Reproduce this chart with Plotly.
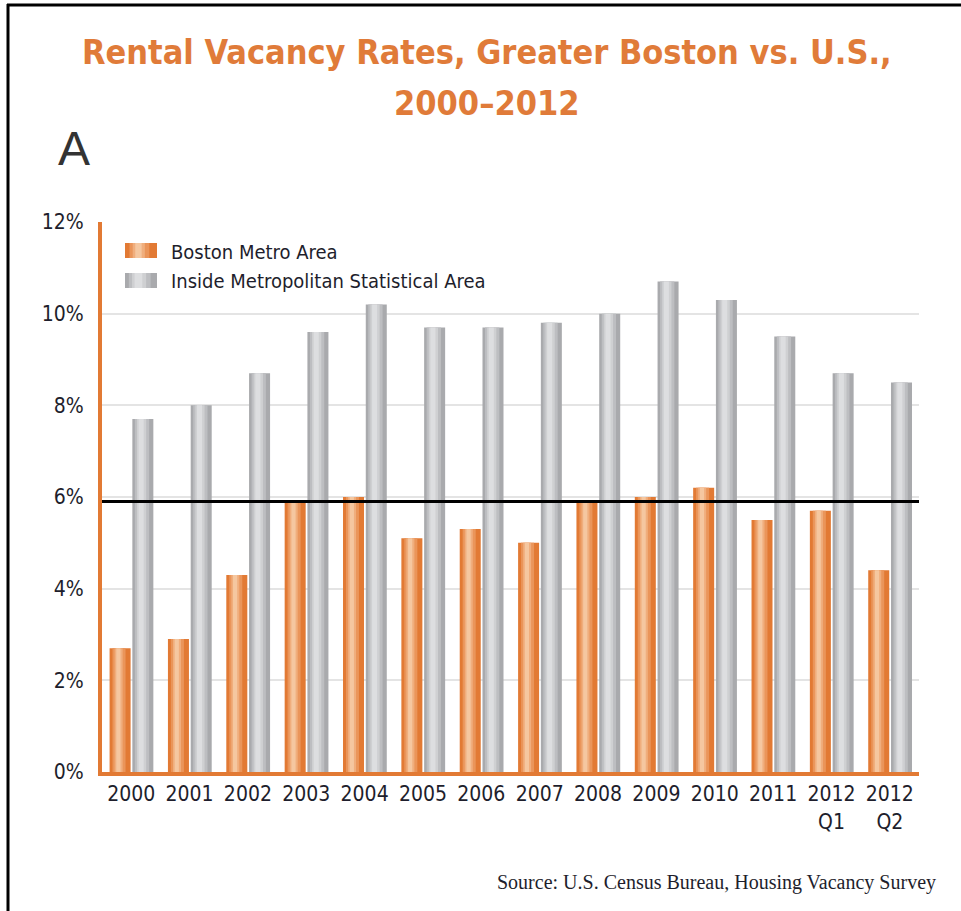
import plotly.graph_objects as go

categories = ["2000", "2001", "2002", "2003", "2004", "2005", "2006", "2007",
              "2008", "2009", "2010", "2011", "2012<br>Q1", "2012<br>Q2"]
boston = [2.7, 2.9, 4.3, 5.9, 6.0, 5.1, 5.3, 5.0, 5.9, 6.0, 6.2, 5.5, 5.7, 4.4]
inside_msa = [7.7, 8.0, 8.7, 9.6, 10.2, 9.7, 9.7, 9.8, 10.0, 10.7, 10.3, 9.5, 8.7, 8.5]
reference_line = 5.9
y_ticks = [0, 2, 4, 6, 8, 10, 12]
y_tick_labels = ["0%", "2%", "4%", "6%", "8%", "10%", "12%"]
series_names = ["Boston Metro Area", "Inside Metropolitan Statistical Area"]
title_lines = ["Rental Vacancy Rates, Greater Boston vs. U.S.,", "2000\u20132012"]

ORANGE = "#E27A34"
TITLE_ORANGE = "#E07B39"
GRAY = "#A9AAAD"
TEXT = "#1E1E2C"
NARROW = "Liberation Sans Narrow, Arial Narrow, DejaVu Sans Condensed, sans-serif"

W, H = 961, 911
L, R, T, B = 102, 42, 222, 139
PW, PH = W - L - R, H - T - B

xs = list(range(len(categories)))

orange_layers = [(0.0, 1.0, ORANGE), (0.14, 0.76, "#EA955A"),
                 (0.24, 0.62, "#F0AE7D"), (0.32, 0.52, "#F5C7A0")]
gray_layers = [(0.0, 1.0, GRAY), (0.12, 0.80, "#BDBEC1"),
               (0.22, 0.66, "#CFD0D2"), (0.30, 0.54, "#DDDEE0")]

bar_w = 0.36
fig = go.Figure()


def add_series(vals, base_offset, layers):
    for a, b, col in layers:
        fig.add_trace(go.Bar(
            x=xs, y=vals, offset=base_offset + a * bar_w, width=(b - a) * bar_w,
            marker=dict(color=col, line=dict(width=0)),
            showlegend=False, hoverinfo="skip"))


add_series(boston, -0.37, orange_layers)
add_series(inside_msa, 0.02, gray_layers)

shapes = []
shapes.append(dict(type="line", xref="paper", yref="y", x0=0, x1=1,
                   y0=reference_line, y1=reference_line,
                   line=dict(color="black", width=3)))


def px_x(p):
    return (p - L) / PW


def px_y(p):
    return (H - B - p) / PH


shapes.append(dict(type="line", xref="paper", yref="paper",
                   x0=px_x(7), x1=px_x(961), y0=px_y(5), y1=px_y(5),
                   line=dict(color="black", width=3)))
shapes.append(dict(type="line", xref="paper", yref="paper",
                   x0=px_x(8), x1=px_x(8), y0=px_y(4), y1=px_y(911),
                   line=dict(color="black", width=3)))

sw_x0, sw_w, sw_h = 125, 32, 15
for (top, layers) in [(243, orange_layers), (273, gray_layers)]:
    for a, b, col in layers:
        shapes.append(dict(type="rect", xref="paper", yref="paper",
                           x0=px_x(sw_x0 + a * sw_w), x1=px_x(sw_x0 + b * sw_w),
                           y0=px_y(top + sw_h), y1=px_y(top),
                           fillcolor=col, line=dict(width=0), layer="above"))

annotations = []
for name, cy in zip(series_names, [252, 281]):
    annotations.append(dict(text=name, xref="paper", yref="paper",
                            x=px_x(169), y=px_y(cy), xanchor="left", yanchor="middle",
                            showarrow=False, font=dict(family=NARROW, size=20, color=TEXT)))

for line, cy in zip(title_lines, [52, 103]):
    annotations.append(dict(text=line, xref="paper", yref="paper", x=px_x(487), y=px_y(cy),
                            xanchor="center", yanchor="middle", showarrow=False,
                            font=dict(family=NARROW, size=34, color=TITLE_ORANGE, weight="bold")))
annotations.append(dict(text="A", xref="paper", yref="paper", x=px_x(56), y=px_y(149),
                        xanchor="left", yanchor="middle", showarrow=False,
                        font=dict(family="Liberation Sans, Arial, sans-serif", size=48, color="#333333")))
annotations.append(dict(text="Source: U.S. Census Bureau, Housing Vacancy Survey",
                        xref="paper", yref="paper", x=px_x(938), y=px_y(882),
                        xanchor="right", yanchor="middle", showarrow=False,
                        font=dict(family="Liberation Serif, Times New Roman, serif", size=20, color=TEXT)))

fig.update_layout(
    width=W, height=H, margin=dict(l=L, r=R, t=T, b=B, autoexpand=False),
    paper_bgcolor="white", plot_bgcolor="white",
    barmode="overlay", showlegend=False,
    shapes=shapes, annotations=annotations,
    xaxis=dict(range=[-0.5, len(categories) - 0.5], tickvals=xs, ticktext=categories,
               showgrid=False, zeroline=False, showline=True, linecolor=ORANGE, linewidth=4,
               ticks="", tickfont=dict(family=NARROW, size=21, color=TEXT), fixedrange=True),
    yaxis=dict(range=[0, 12], tickvals=y_ticks, ticktext=y_tick_labels,
               showgrid=True, gridcolor="#E4E4E4", gridwidth=1.5, zeroline=False,
               showline=True, linecolor=ORANGE, linewidth=4, ticks="",
               ticklabelstandoff=10,
               tickfont=dict(family=NARROW, size=21, color=TEXT), fixedrange=True),
)

fig.write_html("out.html", config={"displayModeBar": False},
               post_script="document.body.style.margin='0';")
